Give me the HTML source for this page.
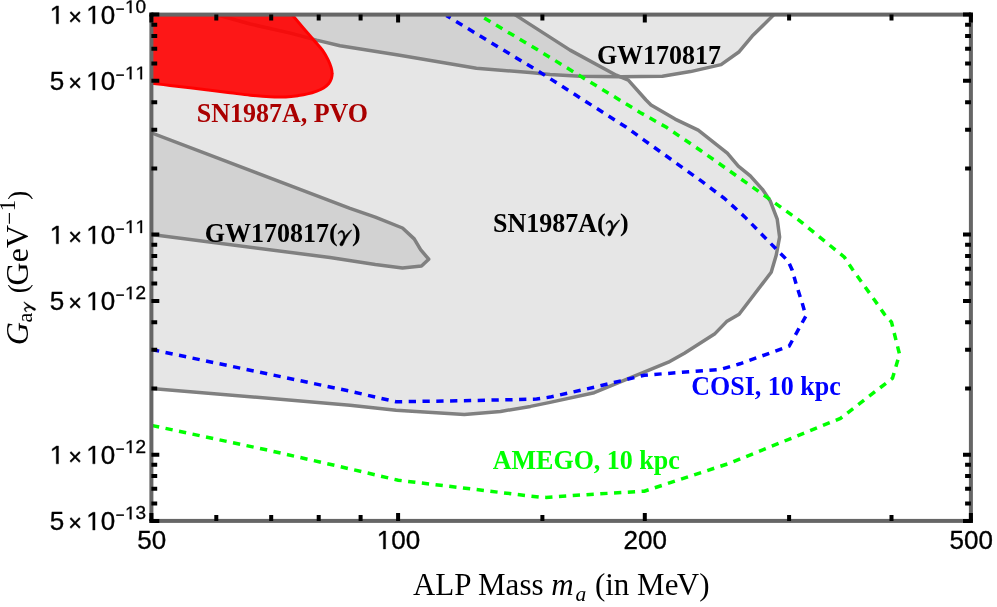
<!DOCTYPE html>
<html><head><meta charset="utf-8"><title>ALP exclusion plot</title>
<style>html,body{margin:0;padding:0;background:#fff}svg{display:block;will-change:transform}</style></head>
<body>
<svg width="997" height="607" viewBox="0 0 997 607">
<rect width="997" height="607" fill="#fff"/>
<defs><clipPath id="cp"><rect x="151.4" y="14.6" width="819.5" height="506.3"/></clipPath></defs>
<g clip-path="url(#cp)">
<path d="M151.4,388.4 L350.0,405.2 L396.1,410.2 L464.3,414.6 L500.5,411.4 L530.5,406.4 L550.0,402.4 L594.2,392.7 L668.4,362.2 L684.4,353.2 L714.5,334.1 L726.6,321.6 L739.1,314.3 L771.2,272.2 L776.2,255.2 L779.6,237.1 L777.2,219.1 L770.4,201.3 L762.4,189.3 L750.3,175.8 L738.3,166.2 L727.3,153.2 L698.2,130.1 L675.1,119.1 L651.0,105.0 L646.0,100.0 L628.3,80.2 L616.3,75.2 L570.1,50.1 L530.0,24.4 L514.8,14.6 L151.4,14.6 Z" fill="#808080" fill-opacity="0.2"/>
<path d="M216.0,14.6 L250.3,24.0 L290.4,33.1 L316.5,40.1 L340.0,45.7 L398.2,55.1 L476.4,68.2 L530.0,72.6 L550.0,74.6 L580.0,76.2 L620.3,76.8 L662.4,76.2 L690.5,71.6 L721.1,64.6 L739.2,51.7 L752.2,36.1 L774.0,14.6 Z" fill="#808080" fill-opacity="0.2"/>
<path d="M151.4,132.8 L350.0,208.3 L375.3,217.1 L402.5,228.0 L414.2,238.9 L420.6,249.7 L428.7,259.2 L421.5,266.1 L402.5,267.9 L375.3,264.4 L330.0,257.5 L151.4,234.6 Z" fill="#808080" fill-opacity="0.2"/>
<g fill="none" stroke="#808080" stroke-width="3.5" stroke-linejoin="round">
<path d="M151.4,388.4 L350.0,405.2 L396.1,410.2 L464.3,414.6 L500.5,411.4 L530.5,406.4 L550.0,402.4 L594.2,392.7 L668.4,362.2 L684.4,353.2 L714.5,334.1 L726.6,321.6 L739.1,314.3 L771.2,272.2 L776.2,255.2 L779.6,237.1 L777.2,219.1 L770.4,201.3 L762.4,189.3 L750.3,175.8 L738.3,166.2 L727.3,153.2 L698.2,130.1 L675.1,119.1 L651.0,105.0 L646.0,100.0 L628.3,80.2 L616.3,75.2 L570.1,50.1 L530.0,24.4 L514.8,14.6"/>
<path d="M216.0,14.6 L250.3,24.0 L290.4,33.1 L316.5,40.1 L340.0,45.7 L398.2,55.1 L476.4,68.2 L530.0,72.6 L550.0,74.6 L580.0,76.2 L620.3,76.8 L662.4,76.2 L690.5,71.6 L721.1,64.6 L739.2,51.7 L752.2,36.1 L774.0,14.6"/>
<path d="M151.4,132.8 L350.0,208.3 L375.3,217.1 L402.5,228.0 L414.2,238.9 L420.6,249.7 L428.7,259.2 L421.5,266.1 L402.5,267.9 L375.3,264.4 L330.0,257.5 L151.4,234.6"/>
</g>
<path d="M151.4,14.6 L292.0,14.6 C293.9,16.9 299.9,24.0 303.7,28.4 C307.5,32.8 311.5,37.3 314.6,41.0 C317.8,44.7 320.4,47.3 322.6,50.4 C324.8,53.5 326.6,56.9 328.0,59.7 C329.4,62.5 330.4,65.2 331.1,67.4 C331.8,69.7 332.1,71.4 332.1,73.2 C332.2,75.0 331.9,76.8 331.4,78.5 C330.8,80.2 330.1,81.9 328.8,83.5 C327.5,85.1 325.5,86.7 323.5,88.0 C321.5,89.3 319.5,90.1 316.8,91.1 C314.1,92.1 310.6,93.2 307.5,93.9 C304.4,94.7 301.9,95.1 298.3,95.6 C294.7,96.1 290.5,96.7 285.8,96.9 C281.1,97.1 275.9,97.1 270.0,96.8 C264.1,96.5 256.9,95.9 250.3,95.2 C243.7,94.5 236.9,93.6 230.2,92.8 C223.5,92.0 216.9,91.0 210.2,90.2 C203.5,89.4 196.8,88.6 190.1,87.8 C183.4,87.0 176.4,86.2 170.0,85.4 C163.6,84.6 154.5,83.6 151.4,83.2 Z" fill="#ff0000" fill-opacity="0.9"/>
<path d="M151.4,14.6 L292.0,14.6 C293.9,16.9 299.9,24.0 303.7,28.4 C307.5,32.8 311.5,37.3 314.6,41.0 C317.8,44.7 320.4,47.3 322.6,50.4 C324.8,53.5 326.6,56.9 328.0,59.7 C329.4,62.5 330.4,65.2 331.1,67.4 C331.8,69.7 332.1,71.4 332.1,73.2 C332.2,75.0 331.9,76.8 331.4,78.5 C330.8,80.2 330.1,81.9 328.8,83.5 C327.5,85.1 325.5,86.7 323.5,88.0 C321.5,89.3 319.5,90.1 316.8,91.1 C314.1,92.1 310.6,93.2 307.5,93.9 C304.4,94.7 301.9,95.1 298.3,95.6 C294.7,96.1 290.5,96.7 285.8,96.9 C281.1,97.1 275.9,97.1 270.0,96.8 C264.1,96.5 256.9,95.9 250.3,95.2 C243.7,94.5 236.9,93.6 230.2,92.8 C223.5,92.0 216.9,91.0 210.2,90.2 C203.5,89.4 196.8,88.6 190.1,87.8 C183.4,87.0 176.4,86.2 170.0,85.4 C163.6,84.6 154.5,83.6 151.4,83.2 Z" fill="none" stroke="#ff0000" stroke-width="3" stroke-linejoin="round"/>
<g fill="none" stroke-width="3.5" stroke-dasharray="7.3 6.5" stroke-dashoffset="0.5">
<path d="M152.5,349.7 L350.0,391.2 L396.1,401.8 L470.4,400.6 L536.6,399.1 L550.0,397.1 L594.2,387.3 L644.3,375.2 L720.5,369.4 L740.0,363.8 L789.2,346.1 L805.9,316.0 L802.2,303.0 L796.2,284.3 L792.2,270.2 L788.2,261.2 L774.2,247.1 L745.3,217.4 L724.3,198.3 L700.2,180.2 L644.0,140.1 L626.3,127.3 L576.1,95.3 L540.0,72.2 L446.3,15.5" stroke="#0000ff"/>
<path d="M152.5,425.6 L266.3,449.8 L340.0,466.6 L398.2,480.2 L540.0,497.2 L546.0,497.4 L590.2,494.4 L644.3,491.2 L730.0,463.1 L840.4,418.4 L892.5,378.2 L899.5,354.2 L891.5,322.1 L884.5,314.3 L874.5,300.0 L852.4,269.2 L844.4,257.2 L798.5,219.8 L768.4,198.3 L700.2,150.2 L666.4,127.3 L640.0,112.4 L582.2,77.2 L537.6,49.8 L480.0,15.5" stroke="#00ff00"/>
</g>
</g>
<rect x="151.4" y="14.6" width="819.5" height="506.3" fill="none" stroke="#666" stroke-width="4"/>
<path d="M151.4,520.9v-7.9M151.4,14.6v7.9M398.1,520.9v-7.9M398.1,14.6v7.9M644.8,520.9v-7.9M644.8,14.6v7.9M970.9,520.9v-7.9M970.9,14.6v7.9M216.3,520.9v-5.8M216.3,14.6v5.8M271.2,520.9v-5.8M271.2,14.6v5.8M318.7,520.9v-5.8M318.7,14.6v5.8M360.6,520.9v-5.8M360.6,14.6v5.8M542.4,520.9v-5.8M542.4,14.6v5.8M789.1,520.9v-5.8M789.1,14.6v5.8M891.5,520.9v-5.8M891.5,14.6v5.8M151.4,520.9h7.9M970.9,520.9h-7.9M151.4,454.7h7.9M970.9,454.7h-7.9M151.4,300.9h7.9M970.9,300.9h-7.9M151.4,234.6h7.9M970.9,234.6h-7.9M151.4,80.8h7.9M970.9,80.8h-7.9M151.4,14.6h7.9M970.9,14.6h-7.9M151.4,503.5h5.8M970.9,503.5h-5.8M151.4,488.7h5.8M970.9,488.7h-5.8M151.4,476.0h5.8M970.9,476.0h-5.8M151.4,464.7h5.8M970.9,464.7h-5.8M151.4,388.4h5.8M970.9,388.4h-5.8M151.4,349.7h5.8M970.9,349.7h-5.8M151.4,322.2h5.8M970.9,322.2h-5.8M151.4,283.4h5.8M970.9,283.4h-5.8M151.4,268.7h5.8M970.9,268.7h-5.8M151.4,256.0h5.8M970.9,256.0h-5.8M151.4,244.7h5.8M970.9,244.7h-5.8M151.4,168.4h5.8M970.9,168.4h-5.8M151.4,129.7h5.8M970.9,129.7h-5.8M151.4,102.2h5.8M970.9,102.2h-5.8M151.4,63.4h5.8M970.9,63.4h-5.8M151.4,48.7h5.8M970.9,48.7h-5.8M151.4,35.9h5.8M970.9,35.9h-5.8M151.4,24.7h5.8M970.9,24.7h-5.8" stroke="#000" stroke-width="4.0" fill="none"/>
<rect x="149.40" y="12.60" width="4.00" height="4.00" fill="#000"/>
<rect x="149.40" y="518.90" width="4.00" height="4.00" fill="#000"/>
<rect x="968.90" y="12.60" width="4.00" height="4.00" fill="#000"/>
<rect x="968.90" y="518.90" width="4.00" height="4.00" fill="#000"/>
<g font-family="'Liberation Sans', sans-serif" fill="#000" stroke="#000" stroke-width="0.35" stroke-linejoin="round">
<text x="137.34" y="549.00" font-size="26">50</text>
<path d="M383.34,549.00 L383.34,533.30 L379.30,536.18 L379.30,534.02 L383.53,531.11 L385.64,531.11 L385.64,549.00 Z"/>
<text x="391.26" y="549.00" font-size="26">00</text>
<text x="623.50" y="549.00" font-size="26">200</text>
<text x="949.61" y="549.00" font-size="26">500</text>
<text x="49.70" y="530.10" font-size="26">5</text>
<text x="68.18" y="531.00" font-size="23.5">×</text>
<path d="M92.74,530.10 L92.74,514.40 L88.70,517.28 L88.70,515.12 L92.93,512.21 L95.04,512.21 L95.04,530.10 Z"/>
<text x="100.66" y="530.10" font-size="26">0</text>
<text x="115.76" y="519.90" font-size="15">−</text>
<g transform="translate(0,519.30) scale(1,0.96) translate(0,-519.30)">
<path d="M129.78,519.30 L129.78,507.82 L126.83,509.93 L126.83,508.35 L129.92,506.23 L131.46,506.23 L131.46,519.30 Z"/>
<text x="135.57" y="519.30" font-size="19">3</text>
</g>
<path d="M56.24,463.86 L56.24,448.16 L52.20,451.04 L52.20,448.88 L56.43,445.98 L58.54,445.98 L58.54,463.86 Z"/>
<text x="68.18" y="464.76" font-size="23.5">×</text>
<path d="M92.74,463.86 L92.74,448.16 L88.70,451.04 L88.70,448.88 L92.93,445.98 L95.04,445.98 L95.04,463.86 Z"/>
<text x="100.66" y="463.86" font-size="26">0</text>
<text x="115.76" y="453.66" font-size="15">−</text>
<g transform="translate(0,453.06) scale(1,0.96) translate(0,-453.06)">
<path d="M129.78,453.06 L129.78,441.59 L126.83,443.69 L126.83,442.12 L129.92,439.99 L131.46,439.99 L131.46,453.06 Z"/>
<text x="135.57" y="453.06" font-size="19">2</text>
</g>
<text x="49.70" y="310.07" font-size="26">5</text>
<text x="68.18" y="310.97" font-size="23.5">×</text>
<path d="M92.74,310.07 L92.74,294.36 L88.70,297.25 L88.70,295.09 L92.93,292.18 L95.04,292.18 L95.04,310.07 Z"/>
<text x="100.66" y="310.07" font-size="26">0</text>
<text x="115.76" y="299.87" font-size="15">−</text>
<g transform="translate(0,299.27) scale(1,0.96) translate(0,-299.27)">
<path d="M129.78,299.27 L129.78,287.79 L126.83,289.90 L126.83,288.32 L129.92,286.20 L131.46,286.20 L131.46,299.27 Z"/>
<text x="135.57" y="299.27" font-size="19">2</text>
</g>
<path d="M56.24,243.83 L56.24,228.13 L52.20,231.01 L52.20,228.85 L56.43,225.94 L58.54,225.94 L58.54,243.83 Z"/>
<text x="68.18" y="244.73" font-size="23.5">×</text>
<path d="M92.74,243.83 L92.74,228.13 L88.70,231.01 L88.70,228.85 L92.93,225.94 L95.04,225.94 L95.04,243.83 Z"/>
<text x="100.66" y="243.83" font-size="26">0</text>
<text x="115.76" y="233.63" font-size="15">−</text>
<g transform="translate(0,233.03) scale(1,0.96) translate(0,-233.03)">
<path d="M129.78,233.03 L129.78,221.56 L126.83,223.66 L126.83,222.08 L129.92,219.96 L131.46,219.96 L131.46,233.03 Z"/>
<path d="M140.35,233.03 L140.35,221.56 L137.40,223.66 L137.40,222.08 L140.48,219.96 L142.02,219.96 L142.02,233.03 Z"/>
</g>
<text x="49.70" y="90.04" font-size="26">5</text>
<text x="68.18" y="90.94" font-size="23.5">×</text>
<path d="M92.74,90.04 L92.74,74.33 L88.70,77.21 L88.70,75.06 L92.93,72.15 L95.04,72.15 L95.04,90.04 Z"/>
<text x="100.66" y="90.04" font-size="26">0</text>
<text x="115.76" y="79.84" font-size="15">−</text>
<g transform="translate(0,79.24) scale(1,0.96) translate(0,-79.24)">
<path d="M129.78,79.24 L129.78,67.76 L126.83,69.87 L126.83,68.29 L129.92,66.16 L131.46,66.16 L131.46,79.24 Z"/>
<path d="M140.35,79.24 L140.35,67.76 L137.40,69.87 L137.40,68.29 L140.48,66.16 L142.02,66.16 L142.02,79.24 Z"/>
</g>
<path d="M56.24,23.80 L56.24,8.10 L52.20,10.98 L52.20,8.82 L56.43,5.91 L58.54,5.91 L58.54,23.80 Z"/>
<text x="68.18" y="24.70" font-size="23.5">×</text>
<path d="M92.74,23.80 L92.74,8.10 L88.70,10.98 L88.70,8.82 L92.93,5.91 L95.04,5.91 L95.04,23.80 Z"/>
<text x="100.66" y="23.80" font-size="26">0</text>
<text x="115.76" y="13.60" font-size="15">−</text>
<g transform="translate(0,13.00) scale(1,0.96) translate(0,-13.00)">
<path d="M129.78,13.00 L129.78,1.52 L126.83,3.63 L126.83,2.05 L129.92,-0.07 L131.46,-0.07 L131.46,13.00 Z"/>
<text x="135.57" y="13.00" font-size="19">0</text>
</g>
</g>
<g font-family="'Liberation Serif', serif" font-size="26" font-weight="bold">
<text transform="translate(196.70,121.70) scale(1,1.02)" fill="#aa0000">SN1987A, PVO</text>
<text transform="translate(596.90,64.20) scale(1,1.02)" fill="#000">GW170817</text>
<text transform="translate(204.80,241.50) scale(1,1.02)" fill="#000">GW170817</text>
<text x="329.02" y="241.10" fill="#000">(</text>
<path transform="translate(337.72,241.10) rotate(0) scale(1)" d="M0.24,-7.34 C1.01,-9.39 2.72,-10.68 4.22,-10.68 C5.93,-10.68 7.0,-8.54 7.34,-4.69 C9.14,-7.25 11.71,-9.82 13.42,-11.11 L14.07,-10.98 C12.57,-8.97 9.57,-4.69 7.52,-1.26 C6.57,0.88 5.93,3.02 4.86,4.30 C3.79,5.16 2.29,4.73 2.08,3.45 C2.08,2.16 4.01,0.02 5.5,-2.12 C5.93,-3.40 5.80,-5.97 5.08,-7.90 C4.43,-9.18 3.15,-9.18 2.29,-8.54 C1.44,-7.9 1.01,-7.25 0.58,-7.04 Z" fill="#000" stroke="#000" stroke-width="0.5" stroke-linejoin="round"/>
<text x="351.92" y="241.10" fill="#000">)</text>
<text transform="translate(493.00,231.50) scale(1,1.02)" fill="#000">SN1987A</text>
<text x="597.00" y="231.10" fill="#000">(</text>
<path transform="translate(605.70,231.10) rotate(0) scale(1)" d="M0.24,-7.34 C1.01,-9.39 2.72,-10.68 4.22,-10.68 C5.93,-10.68 7.0,-8.54 7.34,-4.69 C9.14,-7.25 11.71,-9.82 13.42,-11.11 L14.07,-10.98 C12.57,-8.97 9.57,-4.69 7.52,-1.26 C6.57,0.88 5.93,3.02 4.86,4.30 C3.79,5.16 2.29,4.73 2.08,3.45 C2.08,2.16 4.01,0.02 5.5,-2.12 C5.93,-3.40 5.80,-5.97 5.08,-7.90 C4.43,-9.18 3.15,-9.18 2.29,-8.54 C1.44,-7.9 1.01,-7.25 0.58,-7.04 Z" fill="#000" stroke="#000" stroke-width="0.5" stroke-linejoin="round"/>
<text x="619.90" y="231.10" fill="#000">)</text>
<text transform="translate(691.20,395.30) scale(1,1.02)" fill="#0000ff">COSI, 10 kpc</text>
<text transform="translate(492.80,468.50) scale(1,1.02)" fill="#00ff00">AMEGO, 10 kpc</text>
</g>
<g font-family="'Liberation Serif', serif" font-size="31" fill="#000">
<text x="412.9" y="595.3">ALP Mass <tspan font-style="italic">m</tspan></text>
<text x="575.5" y="600.6" font-size="21.5" font-style="italic">a</text>
<text x="594.9" y="595.3">(in Me<tspan dx="-1.6">V)</tspan></text>
<text transform="translate(27.70,345.37) rotate(-90)" font-size="32" font-style="italic">G</text>
<text transform="translate(32.10,322.57) rotate(-90)" font-size="22">a</text>
<path transform="translate(32.10,312.10) rotate(-90) scale(0.74)" d="M0.24,-7.34 C1.01,-9.39 2.72,-10.68 4.22,-10.68 C5.93,-10.68 7.0,-8.54 7.34,-4.69 C9.14,-7.25 11.71,-9.82 13.42,-11.11 L14.07,-10.98 C12.57,-8.97 9.57,-4.69 7.52,-1.26 C6.57,0.88 5.93,3.02 4.86,4.30 C3.79,5.16 2.29,4.73 2.08,3.45 C2.08,2.16 4.01,0.02 5.5,-2.12 C5.93,-3.40 5.80,-5.97 5.08,-7.90 C4.43,-9.18 3.15,-9.18 2.29,-8.54 C1.44,-7.9 1.01,-7.25 0.58,-7.04 Z" fill="#000" stroke="#000" stroke-width="0.5" stroke-linejoin="round"/>
<text transform="translate(26.80,293.19) rotate(-90)" font-size="27.2">(</text>
<text transform="translate(27.70,285.41) rotate(-90)" font-size="32">GeV</text>
<text transform="translate(17.00,224.75) rotate(-90)" font-size="23">−</text>
<text transform="translate(15.00,211.22) rotate(-90)" font-size="23">1</text>
<text transform="translate(26.80,199.68) rotate(-90)" font-size="27.2">)</text>
</g>
</svg>
</body></html>
